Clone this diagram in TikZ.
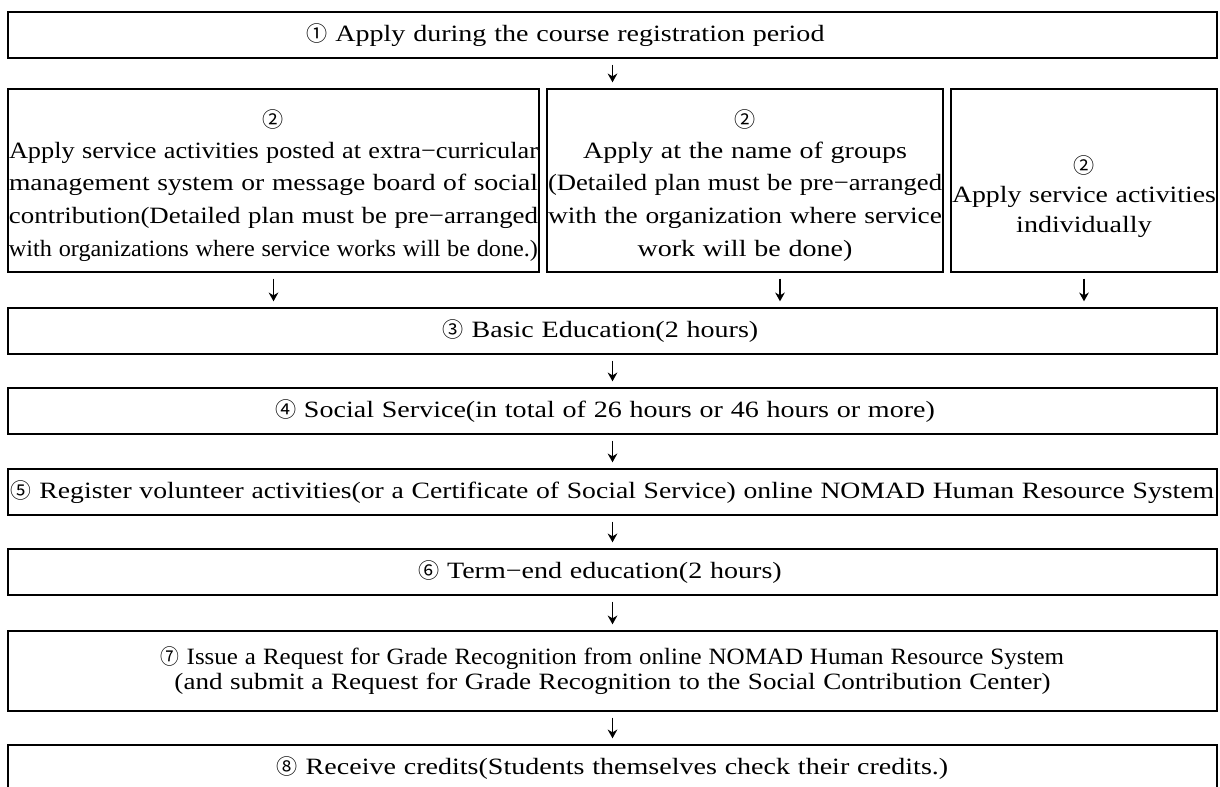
\documentclass[tikz,border=0pt]{standalone}
\usepackage{fontspec}
\setmainfont{Liberation Serif}[FakeStretch=1.2]
\newfontfamily\circledfont{Noto Sans CJK JP}
\usepackage{graphicx}
\usepackage{tikz}
\usetikzlibrary{arrows.meta}
\newcommand{\stepno}[1]{{\circledfont\fontsize{12}{14.23}\selectfont #1}}
\newcommand{\fitto}[2]{\resizebox{#1}{\height}{#2}}
\tikzset{
stage/.style={
  draw,
  rectangle,
  line width=0.8pt,
  inner xsep=0.02cm,
  inner ysep=0pt,
  align=center,
  font=\fontsize{13.3}{14.23}\selectfont
},
wide/.style={stage,text width=24.14cm,minimum height=0.92cm},
choice/.style={stage,minimum height=3.66cm},
}

\begin{document}
\begin{tikzpicture}
\useasboundingbox (0,0) rectangle (24.4,-15.72);
% the boxes
\node[wide] (s1) at (12.25,-0.70) {\stepno{①} Apply during the course registration period\hspace*{1.88cm}\mbox{}};
\node[choice,text width=10.58cm] (s2a) at (5.47,-3.61)
{\rule{0pt}{0.57cm}\stepno{②}\\[3pt]
\fitto{10.58cm}{Apply service activities posted at extra−curricular}\\[4.5pt]
\fitto{10.58cm}{management system or message board of social}\\[4.5pt]
\fitto{10.58cm}{contribution(Detailed plan must be pre−arranged}\\[4.5pt]
\fitto{10.58cm}{with organizations where service works will be done.)}};
\node[choice,text width=7.88cm] (s2b) at (14.90,-3.61)
{\rule{0pt}{0.57cm}\stepno{②}\\[3pt]
Apply at the name of groups\\[4.5pt]
\fitto{7.88cm}{(Detailed plan must be pre−arranged}\\[4.5pt]
\fitto{7.88cm}{with the organization where service}\\[4.5pt]
work will be done)};
\node[choice,text width=5.28cm] (s2c) at (21.68,-3.61)
{\rule{0pt}{1cm}\stepno{②}\\[2.3pt]
\fitto{5.28cm}{Apply service activities}\\[2.3pt]
individually};
\node[wide] (s3) at (12.25,-6.62) {\stepno{③} Basic Education(2 hours)\hspace*{0.48cm}\mbox{}};
\node[wide] (s4) at (12.25,-8.22) {\stepno{④} Social Service(in total of 26 hours or 46 hours or more)\hspace*{0.3cm}\mbox{}};
\node[wide] (s5) at (12.25,-9.84)
{\fitto{24.06cm}{\stepno{⑤} Register volunteer activities(or a Certificate of Social Service) online NOMAD Human Resource System}};
\node[wide] (s6) at (12.25,-11.44) {\stepno{⑥} Term−end education(2 hours)\hspace*{0.5cm}\mbox{}};
\node[wide,minimum height=1.6cm] (s7) at (12.25,-13.42)
{\fitto{18.06cm}{\stepno{⑦} Issue a Request for Grade Recognition from online NOMAD Human Resource System}\\
\fitto{17.52cm}{(and submit a Request for Grade Recognition to the Social Contribution Center)}};
\node[wide] (s8) at (12.25,-15.36) {\stepno{⑧} Receive credits(Students themselves check their credits.)};
% the arrows
\begin{scope}[shorten >=0.12cm,shorten <=0.12cm,line width=0.8pt,-{Stealth[length=5pt,width=5.5pt]}]
\draw (s1.south) -- (s1.south |- s2b.north);
\draw (s2a.south) -- (s2a.south |- s3.north);
\draw ([xshift=0.7cm]s2b.south) -- ([xshift=0.7cm]s2b.south |- s3.north);
\draw (s2c.south) -- (s2c.south |- s3.north);
\foreach \a/\b in {3/4,4/5,5/6,6/7,7/8}
  \draw (s\a.south) -- (s\b.north);
\end{scope}
\end{tikzpicture}
\end{document}
